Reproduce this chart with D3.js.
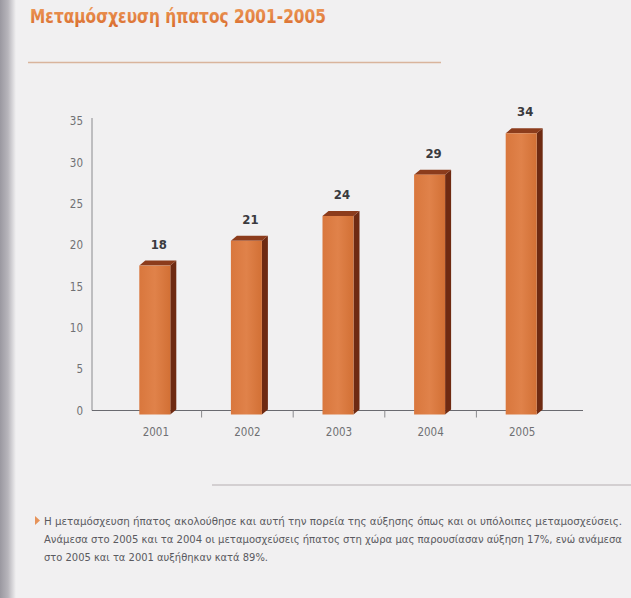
<!DOCTYPE html>
<html>
<head>
<meta charset="utf-8">
<script src="https://cdn.jsdelivr.net/npm/d3@7"></script>
<style>
  html, body { margin: 0; padding: 0; background: #f1f0f1; }
  svg { display: block; }
</style>
</head>
<body>
<svg id="chart" width="631" height="598"></svg>
<script>
// Liver transplants per year
const years = ["2001", "2002", "2003", "2004", "2005"];
const transplants = [18, 21, 24, 29, 34];
const yTicks = [0, 5, 10, 15, 20, 25, 30, 35];

const titleText = "Μεταμόσχευση ήπατος 2001-2005";
const noteLines = [
  "Η μεταμόσχευση ήπατος ακολούθησε και αυτή την πορεία της αύξησης όπως και οι υπόλοιπες μεταμοσχεύσεις.",
  "Ανάμεσα στο 2005 και τα 2004 οι μεταμοσχεύσεις ήπατος στη χώρα μας παρουσίασαν αύξηση 17%, ενώ ανάμεσα",
  "στο 2005 και τα 2001 αυξήθηκαν κατά 89%."
];

const svg = d3.select("#chart");
const W = 631, H = 598;
const defs = svg.append("defs");

// page background with the darker binding edge on the left
const edge = defs.append("linearGradient").attr("id", "edge").attr("x1", 0).attr("x2", 1);
edge.append("stop").attr("offset", 0).attr("stop-color", "#9a98a0");
edge.append("stop").attr("offset", 0.5).attr("stop-color", "#b7b5bb");
edge.append("stop").attr("offset", 1).attr("stop-color", "#f1f0f1");
svg.append("rect").attr("width", W).attr("height", H).attr("fill", "#f1f0f1");
svg.append("rect").attr("width", 16).attr("height", H).attr("fill", "url(#edge)");

// title
const tg = defs.append("linearGradient").attr("id", "titleGrad").attr("x1", 0).attr("x2", 0).attr("y1", 0).attr("y2", 1);
tg.append("stop").attr("offset", 0).attr("stop-color", "#f0a060");
tg.append("stop").attr("offset", 1).attr("stop-color", "#d8692a");
svg.append("text")
  .attr("x", 30).attr("y", 23)
  .attr("font-family", "'DejaVu Sans Condensed', 'DejaVu Sans', sans-serif")
  .attr("font-weight", "bold").attr("font-size", 20)
  .attr("fill", "url(#titleGrad)")
  .attr("textLength", 296).attr("lengthAdjust", "spacingAndGlyphs")
  .text(titleText);

// rule under the title
svg.append("line").attr("x1", 28).attr("x2", 441).attr("y1", 62.5).attr("y2", 62.5)
  .attr("stroke", "#d9b49c").attr("stroke-width", 1.3);

// scales
const x = d3.scaleBand().domain(years).range([110, 568]);
const y = d3.scaleLinear().domain([0, 35]).range([410.5, 121]);

const labelFont = "'DejaVu Sans Condensed', 'Liberation Sans', sans-serif";

// y axis
const gy = svg.append("g").attr("transform", "translate(92,0)")
  .call(d3.axisLeft(y).tickValues(yTicks).tickSize(0).tickPadding(9));
gy.select(".domain").attr("stroke", "#8a8a8e").attr("stroke-width", 1)
  .attr("d", `M0,${y(0)}V${y(35) - 3}`);
gy.selectAll("text").attr("font-family", labelFont).attr("font-size", 11.5)
  .attr("font-weight", 300).attr("fill", "#707074");

// x axis
const gx = svg.append("g").attr("transform", `translate(0,${y(0)})`)
  .call(d3.axisBottom(x).tickSize(0).tickPadding(17));
gx.select(".domain").attr("stroke", "#6a6a70").attr("stroke-width", 1.2)
  .attr("d", "M92,0H583");
gx.selectAll("text").attr("font-family", labelFont).attr("font-size", 11.5)
  .attr("fill", "#707074");
// category separators below the baseline
svg.append("g").selectAll("line").data(years.slice(1)).join("line")
  .attr("x1", d => x(d)).attr("x2", d => x(d))
  .attr("y1", y(0)).attr("y2", y(0) + 7)
  .attr("stroke", "#8a8a8e").attr("stroke-width", 1);

// 3D-style columns: front face, right side, top face
const barW = 31, depthX = 6, depthY = 5, fwd = 4;
const frontGrad = defs.append("linearGradient").attr("id", "front").attr("x1", 0).attr("x2", 1);
frontGrad.append("stop").attr("offset", 0).attr("stop-color", "#d9773d");
frontGrad.append("stop").attr("offset", 0.5).attr("stop-color", "#e0824a");
frontGrad.append("stop").attr("offset", 1).attr("stop-color", "#d27035");

const bars = svg.append("g").selectAll("g").data(years.map((d, i) => ({ year: d, value: transplants[i] }))).join("g");
const fx = d => x(d.year) + x.bandwidth() / 2 - barW / 2 - 1;
const ftop = d => y(d.value) + fwd;
const fbot = () => y(0) + fwd;

bars.append("path")   // side
  .attr("d", d => {
    const l = fx(d) + barW, t = ftop(d), b = fbot();
    return `M${l},${t}L${l + depthX},${t - depthY}L${l + depthX},${b - depthY}L${l},${b}Z`;
  })
  .attr("fill", "#6e2a12");
bars.append("path")   // top
  .attr("d", d => {
    const l = fx(d), t = ftop(d);
    return `M${l},${t}L${l + depthX},${t - depthY}L${l + barW + depthX},${t - depthY}L${l + barW},${t}Z`;
  })
  .attr("fill", "#8c3c1c");
bars.append("rect")   // front
  .attr("x", fx).attr("y", ftop)
  .attr("width", barW).attr("height", d => fbot() - ftop(d))
  .attr("fill", "url(#front)");

// value labels
bars.append("text")
  .attr("x", d => fx(d) + barW / 2 + 4)
  .attr("y", d => ftop(d) - depthY - 12)
  .attr("text-anchor", "middle")
  .attr("font-family", "'DejaVu Sans Condensed', 'DejaVu Sans', sans-serif")
  .attr("font-weight", "bold").attr("font-size", 13)
  .attr("fill", "#3a3a3e")
  .text(d => d.value);

// rule above the note
svg.append("line").attr("x1", 212).attr("x2", 631).attr("y1", 485).attr("y2", 485)
  .attr("stroke", "#c9c5c6").attr("stroke-width", 1.4);

// note with bullet
svg.append("path").attr("d", "M35,516L40,520.5L35,525Z").attr("fill", "#e6935a");
const noteWidths = [578, 578, 224];
svg.append("g").selectAll("text").data(noteLines).join("text")
  .attr("x", 44).attr("y", (d, i) => 525 + i * 18)
  .attr("font-family", labelFont).attr("font-size", 10.5)
  .attr("fill", "#5a5a60")
  .attr("textLength", (d, i) => noteWidths[i])
  .attr("lengthAdjust", "spacingAndGlyphs")
  .text(d => d);
</script>
</body>
</html>
